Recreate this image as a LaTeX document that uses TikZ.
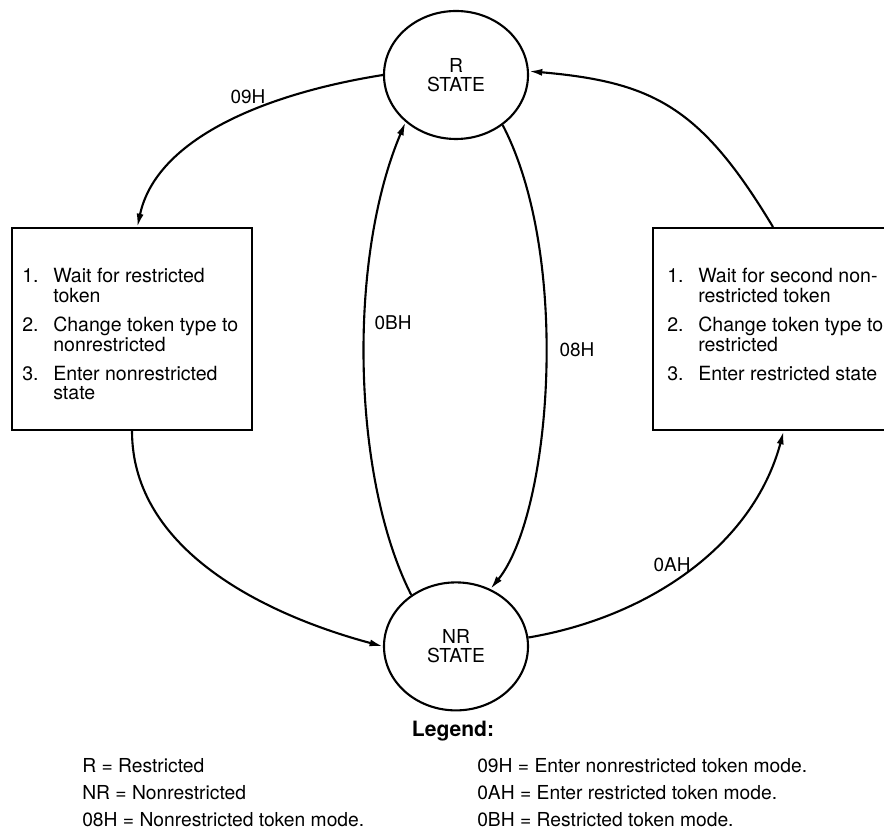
\documentclass[tikz,border=0pt]{standalone}
\usepackage{fontspec}
\setmainfont{TeX Gyre Heros}
\usetikzlibrary{shapes.geometric,arrows.meta}

\begin{document}
\begin{tikzpicture}[
        state/.style={draw,ellipse,line width=1.5pt,minimum width=3.6cm,minimum height=3.2cm,
            inner sep=0pt,align=center,font=\fontsize{13.7}{13.5}\selectfont},
        actbox/.style={draw,rectangle,line width=1.4pt,minimum width=6cm,minimum height=5.05cm},
        boxtext/.style={anchor=base west,inner sep=0pt,font=\fontsize{13.9}{13.9}\selectfont},
        conn/.style={line width=1.5pt,-{Latex[length=9.5pt,width=5pt]}},
        code/.style={font=\fontsize{13.5}{16}\selectfont},
        legendtext/.style={anchor=base west,inner sep=0pt,font=\fontsize{13.7}{16}\selectfont}
    ]
                \useasboundingbox (0,0) rectangle (22.1,20.75);
                \node[state] (rstate) at (11.4,18.875) {R\\STATE};
                \node[state] (nrstate) at (11.4,4.59) {NR\\STATE};
                \node[actbox] (lbox) at (3.3,12.525) {};
                \node[actbox] (rbox) at (19.325,12.525) {};
                \node[boxtext] (ltext) at (0.55,13.69) {\begin{tabular}[t]{@{}p{0.775cm}@{}l@{}}
                    1. & Wait for restricted\\ & token\\[6pt]
                    2. & Change token type to\\ & nonrestricted\\[6pt]
                    3. & Enter nonrestricted\\ & state
                \end{tabular}};
                \node[boxtext] (rtext) at (16.675,13.69) {\begin{tabular}[t]{@{}p{0.775cm}@{}l@{}}
                    1. & Wait for second non-\\ & restricted token\\[6pt]
                    2. & Change token type to\\ & restricted\\[6pt]
                    3. & Enter restricted state
                \end{tabular}};
                \draw[conn] (rstate.west) .. controls +(189:3) and +(78:2.25) .. (lbox.87);
                \draw[conn] (nrstate.131) .. controls +(117:3.25) and +(247:3.75) .. (rstate.223);
                \draw[conn] (rstate.313) .. controls +(297.5:3.75) and +(51:2.4) .. (nrstate.59);
                \draw[conn] (rbox.north) .. controls +(121:3.5) and +(355:3.125) .. (rstate.3);
                \draw[conn] (lbox.south) .. controls +(270:3) and +(165:3) .. (nrstate.west);
                \draw[conn] (nrstate.7) .. controls +(9.6:3) and +(255:3) .. (rbox.-84);
                \node[code] (lab09) at (6.2,18.325) {09H};
                \node[code] (lab0b) at (9.825,12.675) {0BH};
                \node[code] (lab08) at (14.425,12.0) {08H};
                \node[code] (lab0a) at (16.8,6.625) {0AH};
                \node[anchor=base,font=\bfseries\fontsize{15}{18}\selectfont] (legend) at (11.325,2.325) {Legend:};
                \node[legendtext] (legr) at (2.05,1.425) {R = Restricted};
                \node[legendtext] (legnr) at (2.05,0.75) {NR = Nonrestricted};
                \node[legendtext] (leg08) at (2.05,0.075) {08H = Nonrestricted token mode.};
                \node[legendtext] (leg09) at (11.925,1.425) {09H = Enter nonrestricted token mode.};
                \node[legendtext] (leg0a) at (11.925,0.75) {0AH = Enter restricted token mode.};
                \node[legendtext] (leg0b) at (11.925,0.075) {0BH = Restricted token mode.};
            \end{tikzpicture}
\end{document}
